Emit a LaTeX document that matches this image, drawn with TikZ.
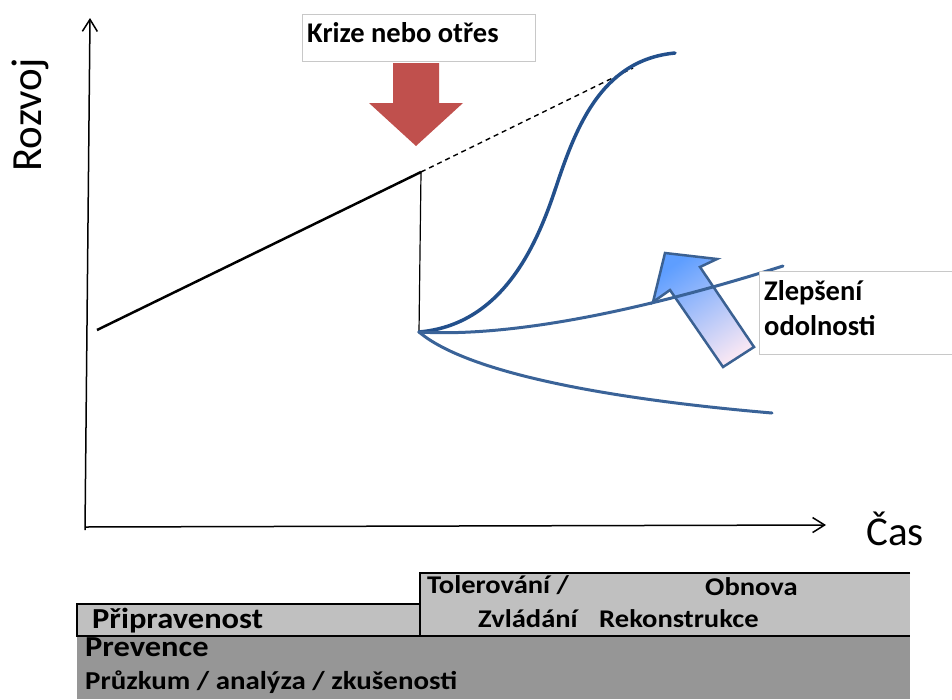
\documentclass[tikz,border=0pt]{standalone}
\usepackage{fontspec}
\setmainfont{Carlito}
\newfontfamily\widefont[FakeStretch=1.12]{Carlito}
\usepackage{tikz}
\usetikzlibrary{arrows.meta}

\definecolor{crisisred}{HTML}{C0504D}
\definecolor{deepblue}{HTML}{23508C}
\definecolor{pathblue}{HTML}{3A6398}
\definecolor{arrowblue}{HTML}{3B6192}
\definecolor{skyblue}{HTML}{5E9EFF}
\definecolor{palepink}{HTML}{F6E6F4}
\definecolor{boxgray}{HTML}{C8C8C8}
\definecolor{lightbar}{HTML}{C0C0C0}
\definecolor{darkbar}{HTML}{969696}

\begin{document}
\begin{tikzpicture}[x=1pt,y=-1pt,
    axis/.style={line width=1.5pt,-{Straight Barb[length=12pt,width=15pt]}},
    infobox/.style={draw=boxgray,line width=1pt,fill=white},
    curve/.style={line width=3pt,color=pathblue,line cap=round},
    lbl/.style={font=\bfseries\fontsize{28.5}{34}\selectfont,anchor=base west,inner sep=0pt},
    bartext/.style={font=\widefont\bfseries\fontsize{25.5}{30}\selectfont,anchor=base west,inner sep=0pt}]
    \useasboundingbox (0,0) rectangle (952,699);

    % axes
    \coordinate (ybottom) at (85,530);
    \coordinate (ytop) at (90,18);
    \coordinate (origin) at (85,527);
    \coordinate (xend) at (826,525);
    \draw [axis] (ybottom) -- (ytop);
    \draw [axis] (origin) -- (xend);
    \node [rotate=90,font=\fontsize{43}{50}\selectfont] (rozvoj) at (30,115) {Rozvoj};
    \node [anchor=base west,inner sep=0pt,font=\fontsize{41}{48}\selectfont] (cas) at (866,545) {Čas};

    % development before the shock
    \coordinate (start) at (97,330);
    \coordinate (shock) at (421,172);
    \coordinate (drop) at (419,332);
    \coordinate (trend) at (633,68);
    \draw [line width=2.5pt] (start) -- (shock);
    \draw [line width=1.4pt,dash pattern=on 5pt off 4pt] (shock) -- (trend);
    \draw [line width=1.2pt] (shock) -- (drop);

    % crisis box and arrow
    \node [infobox,anchor=north west,minimum width=233pt,minimum height=47pt] (krizebox) at (302,14) {};
    \node [lbl] (krize) at (307,42) {Krize nebo otřes};
    \fill [crisisred] (393,63) -- (439,63) -- (439,103) -- (463,103) -- (416,146) -- (369,103) -- (393,103) -- cycle;

    % resilience arrow
    \shadedraw [draw=arrowblue,line width=2.5pt,top color=skyblue,bottom color=palepink,shading angle=34]
      (665,253) -- (717,259) -- (700,267) -- (754,347) -- (723,367) -- (670,290) -- (653,302) -- cycle;

    % recovery paths
    \coordinate (fast) at (675,53);
    \coordinate (better) at (783,266);
    \coordinate (worse) at (772,413);
    \draw [curve,deepblue,line width=3.5pt] (drop) .. controls (500,325) and (535,250) .. (555,190)
      .. controls (575,130) and (600,60) .. (fast);
    \draw [curve] (drop) .. controls (520,338) and (660,305) .. (better);
    \draw [curve] (drop) .. controls (470,375) and (620,400) .. (worse);

    \node [infobox,anchor=north west,minimum width=200pt,minimum height=83pt] (zlepsenibox) at (759,271) {};
    \node [lbl] (zlepseni) at (764,300) {Zlepšení};
    \node [lbl] (odolnost) at (764,335) {odolnosti};

    % phases
    \fill [darkbar] (77,636) rectangle (910,699);
    \filldraw [fill=lightbar,draw=black,line width=2pt] (77,604) rectangle (420,636);
    \fill [lightbar] (420,573) rectangle (910,636);
    \draw [line width=2pt] (910,573) -- (420,573) -- (420,636);
    \draw [line width=2pt] (77,636) -- (910,636);

    \node [bartext] (tolerovani) at (427,593) {Tolerování /};
    \node [bartext] (zvladani) at (478,627) {Zvládání};
    \node [bartext] (obnova) at (705,595) {Obnova};
    \node [bartext] (rekonstrukce) at (599,627) {Rekonstrukce};
    \node [bartext,font=\widefont\bfseries\fontsize{29}{33}\selectfont] (pripravenost) at (92,628) {Připravenost};
    \node [bartext,font=\widefont\bfseries\fontsize{29}{33}\selectfont] (prevence) at (85,656) {Prevence};
    \node [bartext,font=\widefont\bfseries\fontsize{25.8}{30}\selectfont] (pruzkum) at (85,689) {Průzkum / analýza / zkušenosti};
\end{tikzpicture}
\end{document}
